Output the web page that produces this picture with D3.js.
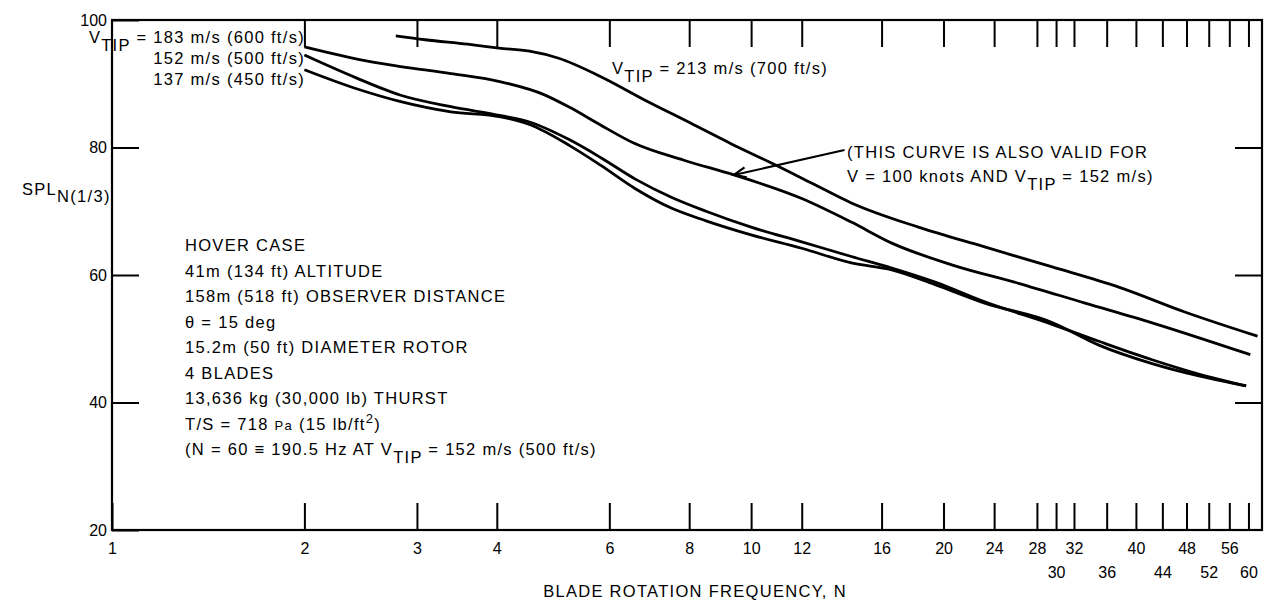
<!DOCTYPE html>
<html>
<head>
<meta charset="utf-8">
<script src="https://cdn.jsdelivr.net/npm/d3@7"></script>
<style>
body { margin: 0; background: #fff; }
svg text { font-family: "Liberation Sans", Arial, sans-serif; fill: #000; }
</style>
</head>
<body>
<svg id="chart" width="1275" height="602"></svg>
<script>
// tick values of the log axis (N) and of SPL
var xTicks = [1, 2, 3, 4, 6, 8, 10, 12, 16, 20, 24, 28, 30, 32, 36, 40, 44, 48, 52, 56, 60];
var xLowRow = [30, 36, 44, 52, 60];   // these labels sit on the second row
var yTicks = [20, 40, 60, 80, 100];

// curves, [N, SPL]
var tip213 = [[2.78, 97.5], [3.09, 96.9], [3.6, 96.2], [4.03, 95.6], [4.5, 95.1], [5.0, 94.0], [5.82, 91.1],
  [6.8, 87.5], [8.05, 83.8], [9.3, 80.6], [10.74, 77.6], [12.5, 74.3], [14.35, 71.3], [18.27, 67.5],
  [23.2, 64.4], [29.5, 61.3], [37.6, 58.1], [47.7, 54.2], [62, 50.4]];
var tip183 = [[2, 95.8], [2.5, 93.6], [2.83, 92.7], [3.39, 91.6], [4.06, 90.3], [4.74, 88.3], [5.2, 86.3],
  [5.82, 83.5], [6.55, 80.7], [7.85, 78.0], [9.4, 75.7], [12, 72.0], [14.35, 68.3], [16.6, 65.0],
  [20.6, 61.6], [26.2, 58.7], [33.3, 55.6], [42.4, 52.5], [60.4, 47.5]];
var tip152 = [[2, 94.5], [2.4, 91.0], [2.83, 88.2], [3.39, 86.4], [4.06, 85.0], [4.5, 84.0], [5.2, 81.2],
  [5.82, 78.4], [6.6, 75.0], [7.5, 72.2], [8.5, 70.0], [10, 67.5], [12, 65.2], [14.35, 62.9], [16.6, 61.1],
  [19.4, 58.9], [23.2, 55.8], [29.5, 52.3], [35, 49.6], [42.4, 46.7], [50, 44.5], [59.5, 42.6]];
var tip137 = [[2, 92.2], [2.4, 89.3], [2.83, 87.2], [3.39, 85.6], [4.06, 84.8], [4.5, 83.6], [5.2, 80.3],
  [5.82, 77.2], [6.6, 73.5], [7.5, 70.5], [8.5, 68.5], [10, 66.3], [12, 64.2], [14.35, 61.9], [16.6, 60.8],
  [19.4, 58.5], [23.2, 55.6], [29.5, 52.6], [35, 49.0], [42.4, 46.1], [50, 44.2], [59.5, 42.6]];

var hoverNotes = ["HOVER CASE", "41m (134 ft) ALTITUDE", "158m (518 ft) OBSERVER DISTANCE",
  "\u03b8 = 15 deg", "15.2m (50 ft)  DIAMETER ROTOR", "4 BLADES", "13,636 kg (30,000 lb) THURST"];

var svg = d3.select("#chart");
var mLeft = 112, mRight = 1262, mTop = 20, mBottom = 530;
var tick = 27;

var x = d3.scaleLog().domain([1, 63]).range([mLeft, mRight]);
var y = d3.scaleLinear().domain([20, 100]).range([mBottom, mTop]);

// frame
svg.append("rect")
  .attr("x", mLeft).attr("y", mTop)
  .attr("width", mRight - mLeft).attr("height", mBottom - mTop)
  .attr("fill", "none").attr("stroke", "#000").attr("stroke-width", 2.2);

// bottom axis (ticks point up)
var gx = svg.append("g").attr("transform", "translate(0," + mBottom + ")")
  .call(d3.axisBottom(x).tickValues(xTicks).tickSizeInner(-tick).tickSizeOuter(0)
    .tickPadding(0).tickFormat(d3.format("d")));
gx.select(".domain").remove();
gx.selectAll("line").attr("stroke-width", 2);
gx.selectAll("text")
  .attr("y", function (d) { return xLowRow.indexOf(d) >= 0 ? 48 : 24; })
  .attr("dy", 0)
  .style("font-size", "16px").style("font-family", "Liberation Sans, Arial, sans-serif");

// top ticks (point down)
var gt = svg.append("g").attr("transform", "translate(0," + mTop + ")")
  .call(d3.axisTop(x).tickValues(xTicks.slice(1)).tickSizeInner(-tick).tickSizeOuter(0).tickFormat(""));
gt.select(".domain").remove();
gt.selectAll("line").attr("stroke-width", 2);

// left axis
var gy = svg.append("g").attr("transform", "translate(" + mLeft + ",0)")
  .call(d3.axisLeft(y).tickValues(yTicks).tickSizeInner(-tick).tickSizeOuter(0).tickPadding(5));
gy.select(".domain").remove();
gy.selectAll("line").attr("stroke-width", 2);
gy.selectAll("text").style("font-size", "16px").style("font-family", "Liberation Sans, Arial, sans-serif");

// right ticks
var gr = svg.append("g").attr("transform", "translate(" + mRight + ",0)")
  .call(d3.axisRight(y).tickValues([40, 60, 80]).tickSizeInner(-tick).tickSizeOuter(0).tickFormat(""));
gr.select(".domain").remove();
gr.selectAll("line").attr("stroke-width", 2);

// curves
var line = d3.line()
  .x(function (d) { return x(d[0]); })
  .y(function (d) { return y(d[1]); })
  .curve(d3.curveMonotoneX);

[tip213, tip183, tip152, tip137].forEach(function (c) {
  svg.append("path").datum(c)
    .attr("d", line)
    .attr("fill", "none").attr("stroke", "#000")
    .attr("stroke-width", 2.8).attr("stroke-linejoin", "round");
});

// text helpers
function label(px, py, anchor) {
  return svg.append("text").attr("x", px).attr("y", py)
    .attr("text-anchor", anchor || "start")
    .style("font-size", "16.5px").style("letter-spacing", "1.3px");
}
function vtip(t, after) {
  t.append("tspan").text("V");
  t.append("tspan").attr("dy", 8).text("TIP");
  t.append("tspan").attr("dy", -8).text(after);
  return t;
}

// V_TIP legend at left
vtip(label(305, 43, "end"), " = 183 m/s (600 ft/s)");
label(305, 64, "end").text("152 m/s (500 ft/s)");
label(305, 85, "end").text("137 m/s (450 ft/s)");

vtip(label(612, 74), " = 213 m/s  (700 ft/s)");

label(847, 158).text("(THIS CURVE IS ALSO VALID FOR");
var note2 = label(847, 182);
note2.append("tspan").text("V = 100 knots AND ");
vtip(note2, " = 152 m/s)");

// arrow to the 183 m/s curve
var ax0 = x(14.0), ay0 = y(79.6), ax1 = x(9.4), ay1 = y(75.7);
var ang = Math.atan2(ay1 - ay0, ax1 - ax0);
svg.append("line").attr("x1", ax0).attr("y1", ay0).attr("x2", ax1).attr("y2", ay1)
  .attr("stroke", "#000").attr("stroke-width", 2);
svg.append("path")
  .attr("d", "M" + (ax1 - 13 * Math.cos(ang - 0.4)) + "," + (ay1 - 13 * Math.sin(ang - 0.4)) +
    "L" + ax1 + "," + ay1 +
    "L" + (ax1 - 13 * Math.cos(ang + 0.4)) + "," + (ay1 - 13 * Math.sin(ang + 0.4)))
  .attr("fill", "none").attr("stroke", "#000").attr("stroke-width", 2.2);

// hover case notes
hoverNotes.forEach(function (s, i) {
  label(185, 251 + i * 25.5).text(s);
});
var ts = label(185, 251 + 7 * 25.5).text("T/S =  718 ");
ts.append("tspan").style("font-size", "13px").text("Pa");
ts.append("tspan").text(" (15 lb/ft");
ts.append("tspan").attr("dy", -7).style("font-size", "13px").text("2");
ts.append("tspan").attr("dy", 7).text(")");
var nline = label(185, 251 + 8 * 25.5);
nline.append("tspan").text("(N = 60 \u2261 190.5 Hz AT ");
vtip(nline, " = 152 m/s (500 ft/s)");

// axis titles
label(695, 597, "middle").text("BLADE ROTATION FREQUENCY, N");
var yl = label(22, 195).text("SPL");
yl.append("tspan").attr("dy", 7).text("N(1/3)");
</script>
</body>
</html>
